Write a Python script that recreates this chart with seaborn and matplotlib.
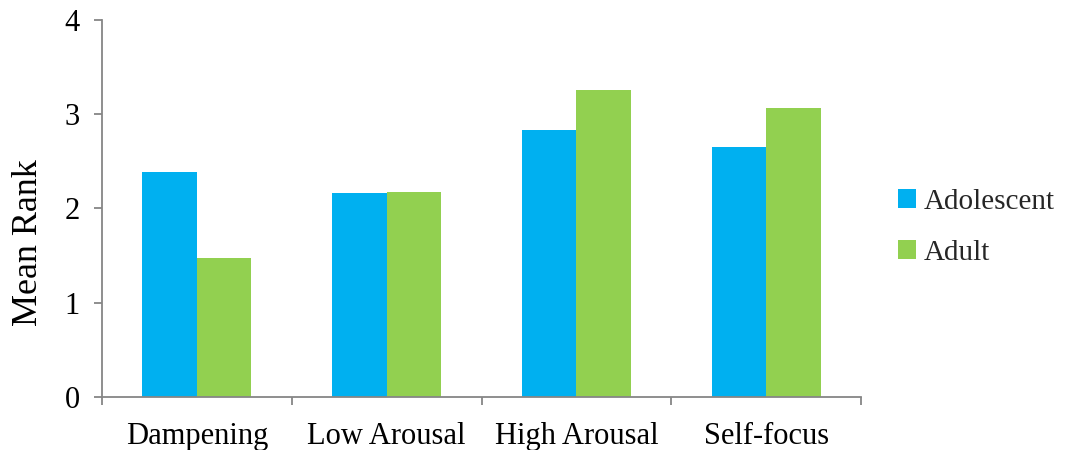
import matplotlib
matplotlib.use("Agg")
import matplotlib.pyplot as plt
from matplotlib.patches import Patch
import seaborn as sns
import pandas as pd

categories = ["Dampening", "Low Arousal", "High Arousal", "Self-focus"]
adolescent = [2.39, 2.16, 2.83, 2.65]
adult = [1.47, 2.18, 3.26, 3.07]
groups = ["Adolescent", "Adult"]
colors = ["#00B0F0", "#92D050"]

df = pd.DataFrame({
    "Strategy": categories * 2,
    "Group": [groups[0]] * len(categories) + [groups[1]] * len(categories),
    "Mean Rank": adolescent + adult,
})

sns.set_theme(style="white")
plt.rcParams["font.family"] = ["Liberation Serif", "DejaVu Serif"]

fig = plt.figure(figsize=(10.66, 4.5), dpi=100)
ax = fig.add_axes([0.0957, 0.1178, 0.712, 0.8378])

sns.barplot(data=df, x="Strategy", y="Mean Rank", hue="Group",
            palette=colors, width=0.575, gap=0, saturation=1,
            linewidth=0, ax=ax, legend=False)

axis_color = "#868686"
ax.set_ylim(0, 4)
ax.set_xlim(-0.5, len(categories) - 0.5)
ax.set_yticks([0, 1, 2, 3, 4])
ax.set_xticks(range(len(categories)))
ax.set_xticklabels(categories)
ax.set_xticks([i - 0.5 for i in range(len(categories) + 1)], minor=True)

for side in ["top", "right"]:
    ax.spines[side].set_visible(False)
for side in ["left", "bottom"]:
    ax.spines[side].set_color(axis_color)
    ax.spines[side].set_linewidth(1.3)

ax.tick_params(axis="y", which="major", direction="out", length=6,
               width=1.3, color=axis_color, labelsize=22, pad=10,
               labelcolor="black", left=True)
ax.tick_params(axis="x", which="major", length=0, labelsize=22, pad=18,
               labelcolor="black")
ax.tick_params(axis="x", which="minor", direction="out", length=6,
               width=1.3, color=axis_color, bottom=True)

ax.set_xlabel("")
ax.set_ylabel("Mean Rank", fontsize=26, color="black")
ax.yaxis.set_label_coords(-0.075, 0.41)

handles = [Patch(facecolor=c, edgecolor="none", label=g) for g, c in zip(groups, colors)]
fig.legend(handles=handles, loc="center left", bbox_to_anchor=(0.818, 0.495),
           frameon=False, fontsize=21, handlelength=0.62, handleheight=0.62,
           handletextpad=0.25, labelspacing=0.85)

fig.savefig("out.png", dpi=100)
